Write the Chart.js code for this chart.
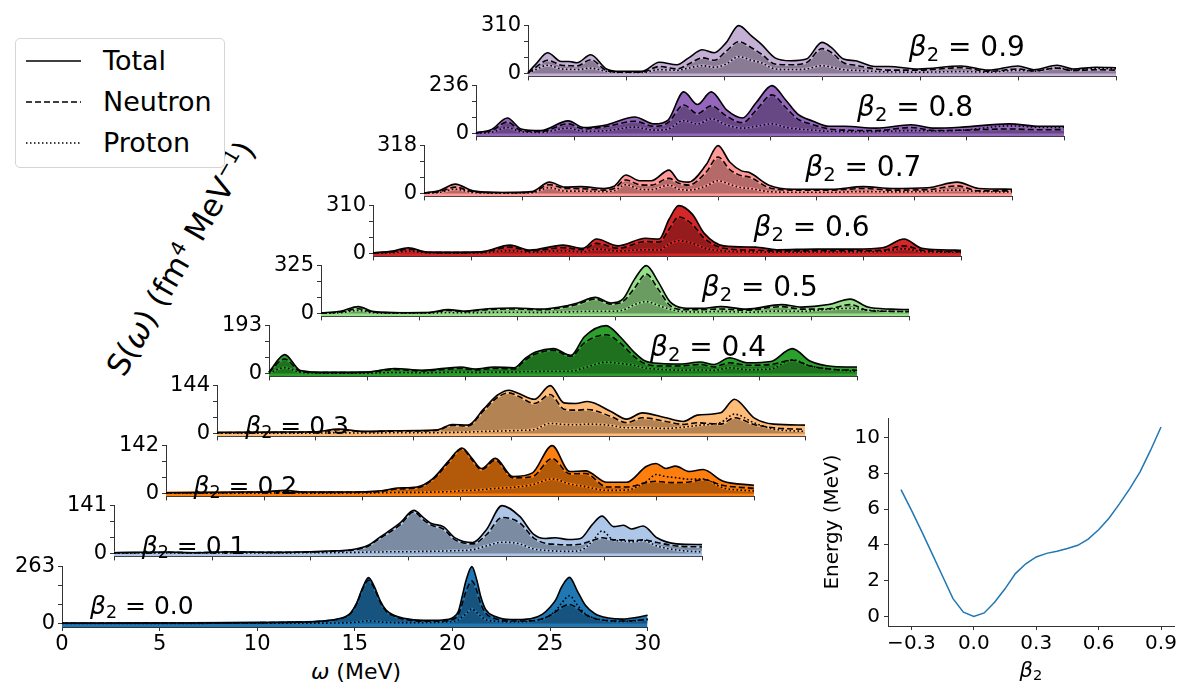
<!DOCTYPE html>
<html><head><meta charset="utf-8">
<script src="https://cdn.jsdelivr.net/npm/chart.js@4.4.0/dist/chart.umd.min.js"></script>
<style>
body{margin:0;background:#fff;}
#wrap{position:relative;width:1182px;height:689px;overflow:hidden;font-family:"DejaVu Sans",sans-serif;background:#fff;}
canvas{position:absolute;}
.lab{position:absolute;white-space:nowrap;color:#000;line-height:1;}
.lab sub{font-size:70%;vertical-align:-0.25em;line-height:0;}
</style></head><body><div id="wrap"></div>
<script>
// ---------- DATA ----------
const betaLabels = ['0.0','0.1','0.2','0.3','0.4','0.5','0.6','0.7','0.8','0.9'];
const yTopTicks = [263,141,142,144,193,325,310,318,236,310];
const xTicks = [0,5,10,15,20,25,30];

const om0 = [0,2,4,6,8,10,12,13,14,14.5,14.8,15.1,15.4,15.7,16.0,16.3,16.6,17.0,17.5,18.5,19.5,20.0,20.3,20.5,20.7,21.0,21.25,21.45,21.7,22.2,23.0,24.0,24.6,25.0,25.3,25.6,26.0,26.4,26.8,27.3,28.0,28.7,29.4,30.0];
const tot0 = [1,1,1.5,2,2.5,4,6,9,18,30,50,95,165,212,170,105,62,38,24,14,16,26,55,125,200,263,200,125,65,32,18,22,42,75,110,170,213,150,85,45,25,20,27,38];
const neu0 = [1,1,1.4,1.8,2.2,3.5,5.5,8,17,28,47,90,158,200,160,98,57,34,20,10,11,18,40,90,150,196,150,90,48,22,11,12,22,37,55,75,88,70,42,22,13,11,14,20];
const pro0 = [0.3,0.3,0.4,0.5,0.6,0.8,1,1.5,2,3,4,6,9,12,10,7,5,4,4,4,6,9,16,30,45,67,50,33,18,10,7,10,20,38,60,95,128,85,45,24,12,9,13,18];

const om1 = [0,1,2.7,4,6.1,8,10,11,12,12.5,13,13.5,14.0,14.6,15.3,15.8,16.2,16.8,17.4,18.3,19.0,19.8,20.7,21.4,22.0,22.5,23.2,23.8,24.4,24.9,25.5,26.0,26.4,27.0,27.7,28.7,30];
const tot1 = [2,3,4,2,5,3,5,7,10,15,25,45,65,90,127,105,88,79,46,32,70,141,109,57,44,46,41,44,85,110,79,83,72,81,46,28,26];
const neu1 = [2,2,3,2,4,3,4,6,9,13,22,42,60,84,122,98,83,72,40,28,55,106,90,46,30,27,25,27,38,46,40,40,38,40,32,22,19];
const pro1 = [0.5,1,1,1,1,1,2,2,3,3,4,4,5,5,5,6,6,7,8,11,22,33,28,13,9,7,6,9,35,66,39,37,34,38,22,10,4];

const om2 = [0,2,4,5,6.1,7,9,11,11.8,12.8,13.6,14.4,15.1,15.6,16.1,16.8,17.7,18.7,19.7,20.6,21.4,22.5,23.5,24.5,25.0,25.5,26.0,26.7,27.4,28.4,30];
const tot2 = [2,3,4,5,9,4,4,8,16,19,43,95,135,105,74,104,50,61,142,65,67,33,33,80,89,74,81,65,71,37,24];
const neu2 = [2,2,3,4,7,3,3,6,13,16,40,90,132,100,70,98,46,50,104,58,59,19,19,32,36,33,32,34,41,24,15];
const pro2 = [0.5,1,1,1,2,1,1,2,3,3,4,5,8,9,11,15,18,26,43,28,20,9,10,35,56,50,47,42,43,17,7];

const om3 = [0,3,5,6.2,7.5,9,11.2,12.0,12.8,13.6,14.3,14.9,15.4,16.2,17.0,17.7,18.3,18.9,20.1,20.9,21.7,22.9,23.8,24.5,25.7,26.4,27.4,28.4,30];
const tot3 = [3,4,5,13,6,8,10,27,25,73,115,130,120,103,144,92,90,96,66,43,62,47,36,55,62,103,47,28,25];
const neu3 = [2,3,4,11,5,7,9,24,22,68,108,122,111,90,117,73,70,72,51,32,47,36,27,32,28,47,27,17,12];
const pro3 = [1,1,1,2,1,2,2,3,4,6,7,8,9,12,30,27,26,28,24,17,17,15,19,24,33,58,32,13,6];

const om4 = [0,0.8,1.6,3,5,6.4,7.8,9.8,10.5,11.5,12.5,13.1,13.6,14.5,15.4,16.1,17.2,17.9,18.6,19.2,20.0,21.0,22.0,22.7,23.5,24.4,25.6,26.7,27.6,28.8,30];
const tot4 = [5,76,12,4,5,20,13,26,18,26,23,63,86,100,73,149,193,149,88,50,40,38,46,36,63,43,48,100,50,28,26];
const neu4 = [4,58,8,3,4,16,10,20,14,20,18,55,78,93,68,124,156,124,70,38,30,30,36,26,43,33,36,53,30,16,13];
const pro4 = [1,23,4,1,1,4,3,5,4,5,5,8,8,9,9,23,45,40,33,22,16,13,14,12,23,15,18,55,30,16,8];

const om5 = [0,1.0,1.9,2.7,4,5.5,6.5,7.3,8.5,9.9,11.2,12.6,13.1,14.0,14.8,15.4,16.0,16.6,17.2,17.8,18.5,19.4,20.4,21.7,23.5,24.5,25.9,27.0,27.9,29.1,30];
const tot5 = [3,15,46,12,5,6,26,15,32,37,29,54,71,109,71,97,233,325,216,80,37,34,46,29,60,43,60,97,43,29,26];
const neu5 = [2,10,32,8,4,5,20,12,26,30,24,46,62,97,63,80,173,267,165,54,26,26,30,22,46,29,32,60,20,14,12];
const pro5 = [1,5,20,4,1,2,6,4,7,8,7,10,12,15,15,22,60,80,55,28,12,10,14,8,16,14,28,35,22,14,12];

const om6 = [0,1.0,1.8,2.8,4,5.5,7.0,8.0,9.7,10.7,11.4,12.5,13.9,14.6,15.1,15.6,16.3,16.9,17.9,19.5,20.6,22.6,24.6,26.0,27.1,28.0,29.7,30];
const tot6 = [3,15,37,8,7,10,54,21,54,33,93,49,98,93,220,310,253,130,49,41,24,28,28,37,93,33,21,20];
const neu6 = [2,10,28,6,5,7,41,15,37,24,65,33,77,73,155,236,187,98,33,21,16,17,17,20,49,21,12,11];
const pro6 = [1,5,14,3,2,3,18,7,17,10,28,16,24,22,60,82,66,35,16,10,8,9,10,13,30,12,8,8];

const om7 = [0,0.8,1.6,2.5,4,5.5,6.4,7.2,8.0,9.2,9.7,10.3,11.0,11.6,12.5,13.0,13.5,14.4,15.0,15.6,16.2,16.6,17.6,18.8,20.8,22.4,23.9,25.7,27.2,28.3,30];
const tot7 = [3,20,62,17,6,12,75,42,45,33,48,122,84,84,155,84,75,192,318,209,150,139,55,28,28,45,33,38,75,33,28];
const neu7 = [2,13,42,11,4,8,58,33,32,22,33,89,58,55,100,67,55,142,242,159,117,109,38,22,22,33,22,25,50,17,17];
const pro7 = [1,7,28,6,2,4,38,15,15,12,18,58,28,25,55,28,22,50,84,60,38,33,12,8,8,12,10,13,22,12,10];

const om8 = [0,0.8,1.6,2.3,3.3,4.7,5.5,6.7,8.1,9.1,9.8,10.6,11.3,12.0,12.8,13.6,14.3,15.1,15.8,16.4,17.2,18.0,18.8,20.4,22.2,23.4,24.8,27.2,28.8,30];
const tot8 = [3,20,76,22,14,62,29,43,81,47,66,205,143,205,115,76,153,236,165,97,60,35,35,26,43,26,31,47,35,35];
const neu8 = [2,14,56,14,9,47,22,35,60,35,53,140,97,136,84,53,115,190,128,72,43,22,16,14,29,14,16,22,18,19];
const pro8 = [1,6,29,8,5,26,10,14,31,16,22,63,47,72,41,26,35,47,30,22,16,10,9,9,14,12,16,37,30,29];

const om9 = [0,0.4,1.0,1.7,2.1,2.5,3.2,4.0,4.7,5.8,6.7,7.6,8.2,8.9,9.5,10.1,10.75,11.4,11.9,12.6,13.4,14.2,15.0,15.5,16.1,16.7,17.7,18.4,19.9,22.1,23.5,25.0,25.8,27.0,27.8,29.0,30];
const tot9 = [5,60,134,77,77,69,121,29,13,13,72,56,101,153,134,198,310,243,190,101,82,93,201,166,93,82,45,45,29,48,21,48,24,53,29,40,37];
const neu9 = [3,40,85,53,50,48,89,18,8,8,45,29,61,101,85,142,206,166,126,61,56,69,161,134,69,53,29,21,21,37,13,29,16,34,18,24,21];
const pro9 = [2,25,53,29,27,25,34,13,6,6,24,20,35,50,40,60,109,85,69,29,25,29,50,40,24,20,13,10,8,12,8,20,15,35,22,32,30];

// inset: deformation energy curve
const betaE = [-0.35,-0.3,-0.25,-0.2,-0.15,-0.1,-0.05,0,0.05,0.1,0.15,0.2,0.25,0.3,0.35,0.4,0.45,0.5,0.55,0.6,0.65,0.7,0.75,0.8,0.85,0.9];
const energy = [7.1,5.95,4.75,3.5,2.25,1.0,0.24,0,0.2,0.8,1.55,2.4,2.95,3.33,3.53,3.65,3.8,3.98,4.33,4.85,5.5,6.3,7.15,8.1,9.3,10.6];
const insetXTicks = [-0.3,0,0.3,0.6,0.9];
const insetYTicks = [0,2,4,6,8,10];

// ---------- STYLE ----------
const fillColors = ['#1f77b4','#aec7e8','#ff7f0e','#ffbb78','#2ca02c','#98df8a','#d62728','#ff9896','#9467bd','#c5b0d5'];
const darkColors = ['#16537e','#7a8ba2','#b3590a','#b38354','#1f701f','#6a9c61','#961b1c','#b36a69','#684884','#8a7b95'];
const panels = [
  [om0,tot0,neu0,pro0],[om1,tot1,neu1,pro1],[om2,tot2,neu2,pro2],[om3,tot3,neu3,pro3],[om4,tot4,neu4,pro4],
  [om5,tot5,neu5,pro5],[om6,tot6,neu6,pro6],[om7,tot7,neu7,pro7],[om8,tot8,neu8,pro8],[om9,tot9,neu9,pro9]
];

const wrap = document.getElementById('wrap');
const X0 = 62, DX = 51.75, Z0 = 622.5, DZ = 60.05, PW = 588, PH = 64;
const FONT = 'DejaVu Sans';
const AX = '#333';

function pts(xs, ys){ return xs.map((x,k)=>({x:x, y:ys[k]})); }

function makePanel(i){
  const [xs, tot, neu, pro] = panels[i];
  const L = X0 + DX*i, Z = Z0 - DZ*i, T = Z - PH, S = Z + 4;
  const bottom = (i === 0);
  const padTop = 8, yW = 60, padR = 12, xH = bottom ? 30 : 6;
  const w = Math.round(yW + PW + padR), h = Math.round(padTop + (S - T) + xH);
  const cv = document.createElement('canvas');
  cv.width = w; cv.height = h;
  cv.style.width = w+'px'; cv.style.height = h+'px';
  cv.style.left = (L - yW)+'px'; cv.style.top = (T - padTop)+'px';
  cv.style.zIndex = 20 - i;
  wrap.appendChild(cv);
  const ymax = yTopTicks[i];
  const common = {borderColor:'#000', borderWidth:1.6, pointRadius:0, cubicInterpolationMode:'monotone', clip:false};
  const under = {borderColor:fillColors[i], borderWidth:2.3, pointRadius:0, cubicInterpolationMode:'monotone', clip:false, fill:false};
  new Chart(cv, {
    type:'line',
    data:{datasets:[
      Object.assign({label:'Proton', data:pts(xs,pro), borderDash:[1.6,2.4], fill:false}, common),
      Object.assign({label:'Neutron', data:pts(xs,neu), borderDash:[6,3], fill:'origin', backgroundColor:darkColors[i]}, common),
      Object.assign({label:'Total', data:pts(xs,tot), fill:'start', backgroundColor:fillColors[i]}, common),
      Object.assign({label:'p-halo', data:pts(xs,pro)}, under),
      Object.assign({label:'n-halo', data:pts(xs,neu)}, under)
    ]},
    options:{
      responsive:false, animation:false, maintainAspectRatio:false,
      layout:{padding:{top:padTop, right:padR, left:0, bottom:0}},
      plugins:{legend:{display:false}, tooltip:{enabled:false}, filler:{drawTime:'beforeDatasetsDraw'}},
      scales:{
        x:{type:'linear', min:0, max:30,
          afterBuildTicks:s=>{ s.ticks = xTicks.map(v=>({value:v})); },
          afterFit:s=>{ s.height = xH; },
          grid:{display:true, drawOnChartArea:false, drawTicks:true, tickLength:4, color:AX},
          border:{display:true, color:AX, width:1},
          ticks:{display:bottom, autoSkip:false, maxRotation:0, padding:1, color:'#000', font:{family:FONT, size:21}}
        },
        y:{type:'linear', min:-ymax/16, max:ymax,
          afterBuildTicks:s=>{ s.ticks = [0, ymax/3, 2*ymax/3, ymax].map(v=>({value:v})); },
          afterFit:s=>{ s.width = yW; },
          grid:{display:true, drawOnChartArea:false, drawTicks:true, tickLength:4, color:AX},
          border:{display:true, color:AX, width:1},
          ticks:{autoSkip:false, padding:3, color:'#000', font:{family:FONT, size:21},
            callback:(v,idx)=> (idx===0 || idx===3) ? String(Math.round(v)) : ''}
        }
      }
    }
  });
  // beta label
  const lab = document.createElement('div');
  lab.className = 'lab';
  lab.innerHTML = '<i>β</i><sub>2</sub> = ' + betaLabels[i];
  const fs = (i < 4) ? 25 : 28;
  lab.style.fontSize = fs+'px';
  lab.style.zIndex = 50;
  if (i < 4){ lab.style.left = (L + 28)+'px'; lab.style.top = (Z - 17 - fs/2)+'px'; }
  else { lab.style.left = (L + 381)+'px'; lab.style.top = (Z - 35 - fs/2)+'px'; }
  wrap.appendChild(lab);
}
for (let i = 9; i >= 0; i--) makePanel(i);

// x-axis title of bottom panel
const xt = document.createElement('div');
xt.className='lab'; xt.innerHTML='<i>ω</i> (MeV)'; xt.style.fontSize='22px';
xt.style.left='356px'; xt.style.top='672px'; xt.style.transform='translate(-50%,-50%)';
wrap.appendChild(xt);

// rotated y label
const yl = document.createElement('div');
yl.className='lab'; yl.innerHTML='S(<i>ω</i>) (fm<sup style="font-size:65%">4</sup> MeV<sup style="font-size:65%">−1</sup>)';
yl.style.fontSize='31px'; yl.style.left='180px'; yl.style.top='258px';
yl.style.transform='translate(-50%,-50%) rotate(-60deg)';
wrap.appendChild(yl);

// legend
const lg = document.createElement('div');
lg.style.cssText='position:absolute;left:15px;top:38px;width:208px;height:128px;border:1px solid #d5d5d5;border-radius:5px;background:#fff;z-index:60;';
lg.innerHTML = '<svg width="80" height="128" style="position:absolute;left:0;top:0">'
 + '<line x1="10" y1="22" x2="65" y2="22" stroke="#000" stroke-width="1.5"/>'
 + '<line x1="10" y1="63" x2="65" y2="63" stroke="#000" stroke-width="1.5" stroke-dasharray="6,3"/>'
 + '<line x1="10" y1="104" x2="65" y2="104" stroke="#000" stroke-width="1.5" stroke-dasharray="1.5,2.5"/>'
 + '</svg>'
 + '<div class="lab" style="left:87px;top:8px;font-size:27px">Total</div>'
 + '<div class="lab" style="left:87px;top:49px;font-size:27px">Neutron</div>'
 + '<div class="lab" style="left:87px;top:90px;font-size:27px">Proton</div>';
wrap.appendChild(lg);

// inset
const ic = document.createElement('canvas');
ic.width=365; ic.height=286; ic.style.width='365px'; ic.style.height='286px';
ic.style.left='817px'; ic.style.top='402px'; ic.style.zIndex=30;
wrap.appendChild(ic);
new Chart(ic, {
  type:'line',
  data:{datasets:[{data:pts(betaE, energy), borderColor:'#1f77b4', borderWidth:1.5, pointRadius:0, tension:0, fill:false}]},
  options:{
    responsive:false, animation:false, maintainAspectRatio:false,
    layout:{padding:{top:10, right:8, left:0, bottom:0}},
    plugins:{legend:{display:false}, tooltip:{enabled:false}},
    scales:{
      x:{type:'linear', min:-0.4125, max:0.9625,
        afterBuildTicks:s=>{ s.ticks = insetXTicks.map(v=>({value:v})); },
        afterFit:s=>{ s.height = 62; },
        grid:{display:true, drawOnChartArea:false, tickLength:4, color:AX},
        border:{display:true, color:AX, width:1},
        ticks:{autoSkip:false, maxRotation:0, padding:2, color:'#000', font:{family:FONT, size:20},
          callback:v=> (v<0?'−':'') + Math.abs(v).toFixed(1)}
      },
      y:{type:'linear', min:-0.53, max:11.1,
        afterBuildTicks:s=>{ s.ticks = insetYTicks.map(v=>({value:v})); },
        afterFit:s=>{ s.width = 71; },
        grid:{display:true, drawOnChartArea:false, tickLength:4, color:AX},
        border:{display:true, color:AX, width:1},
        ticks:{autoSkip:false, padding:4, color:'#000', font:{family:FONT, size:20}},
        title:{display:true, text:'Energy (MeV)', color:'#000', font:{family:FONT, size:20}, padding:{top:4,bottom:4}}
      }
    }
  }
});
const bt = document.createElement('div');
bt.className='lab'; bt.innerHTML='<i>β</i><sub>2</sub>'; bt.style.fontSize='21px';
bt.style.left='1031px'; bt.style.top='670px'; bt.style.transform='translate(-50%,-50%)'; bt.style.zIndex=40;
wrap.appendChild(bt);
</script></body></html>
